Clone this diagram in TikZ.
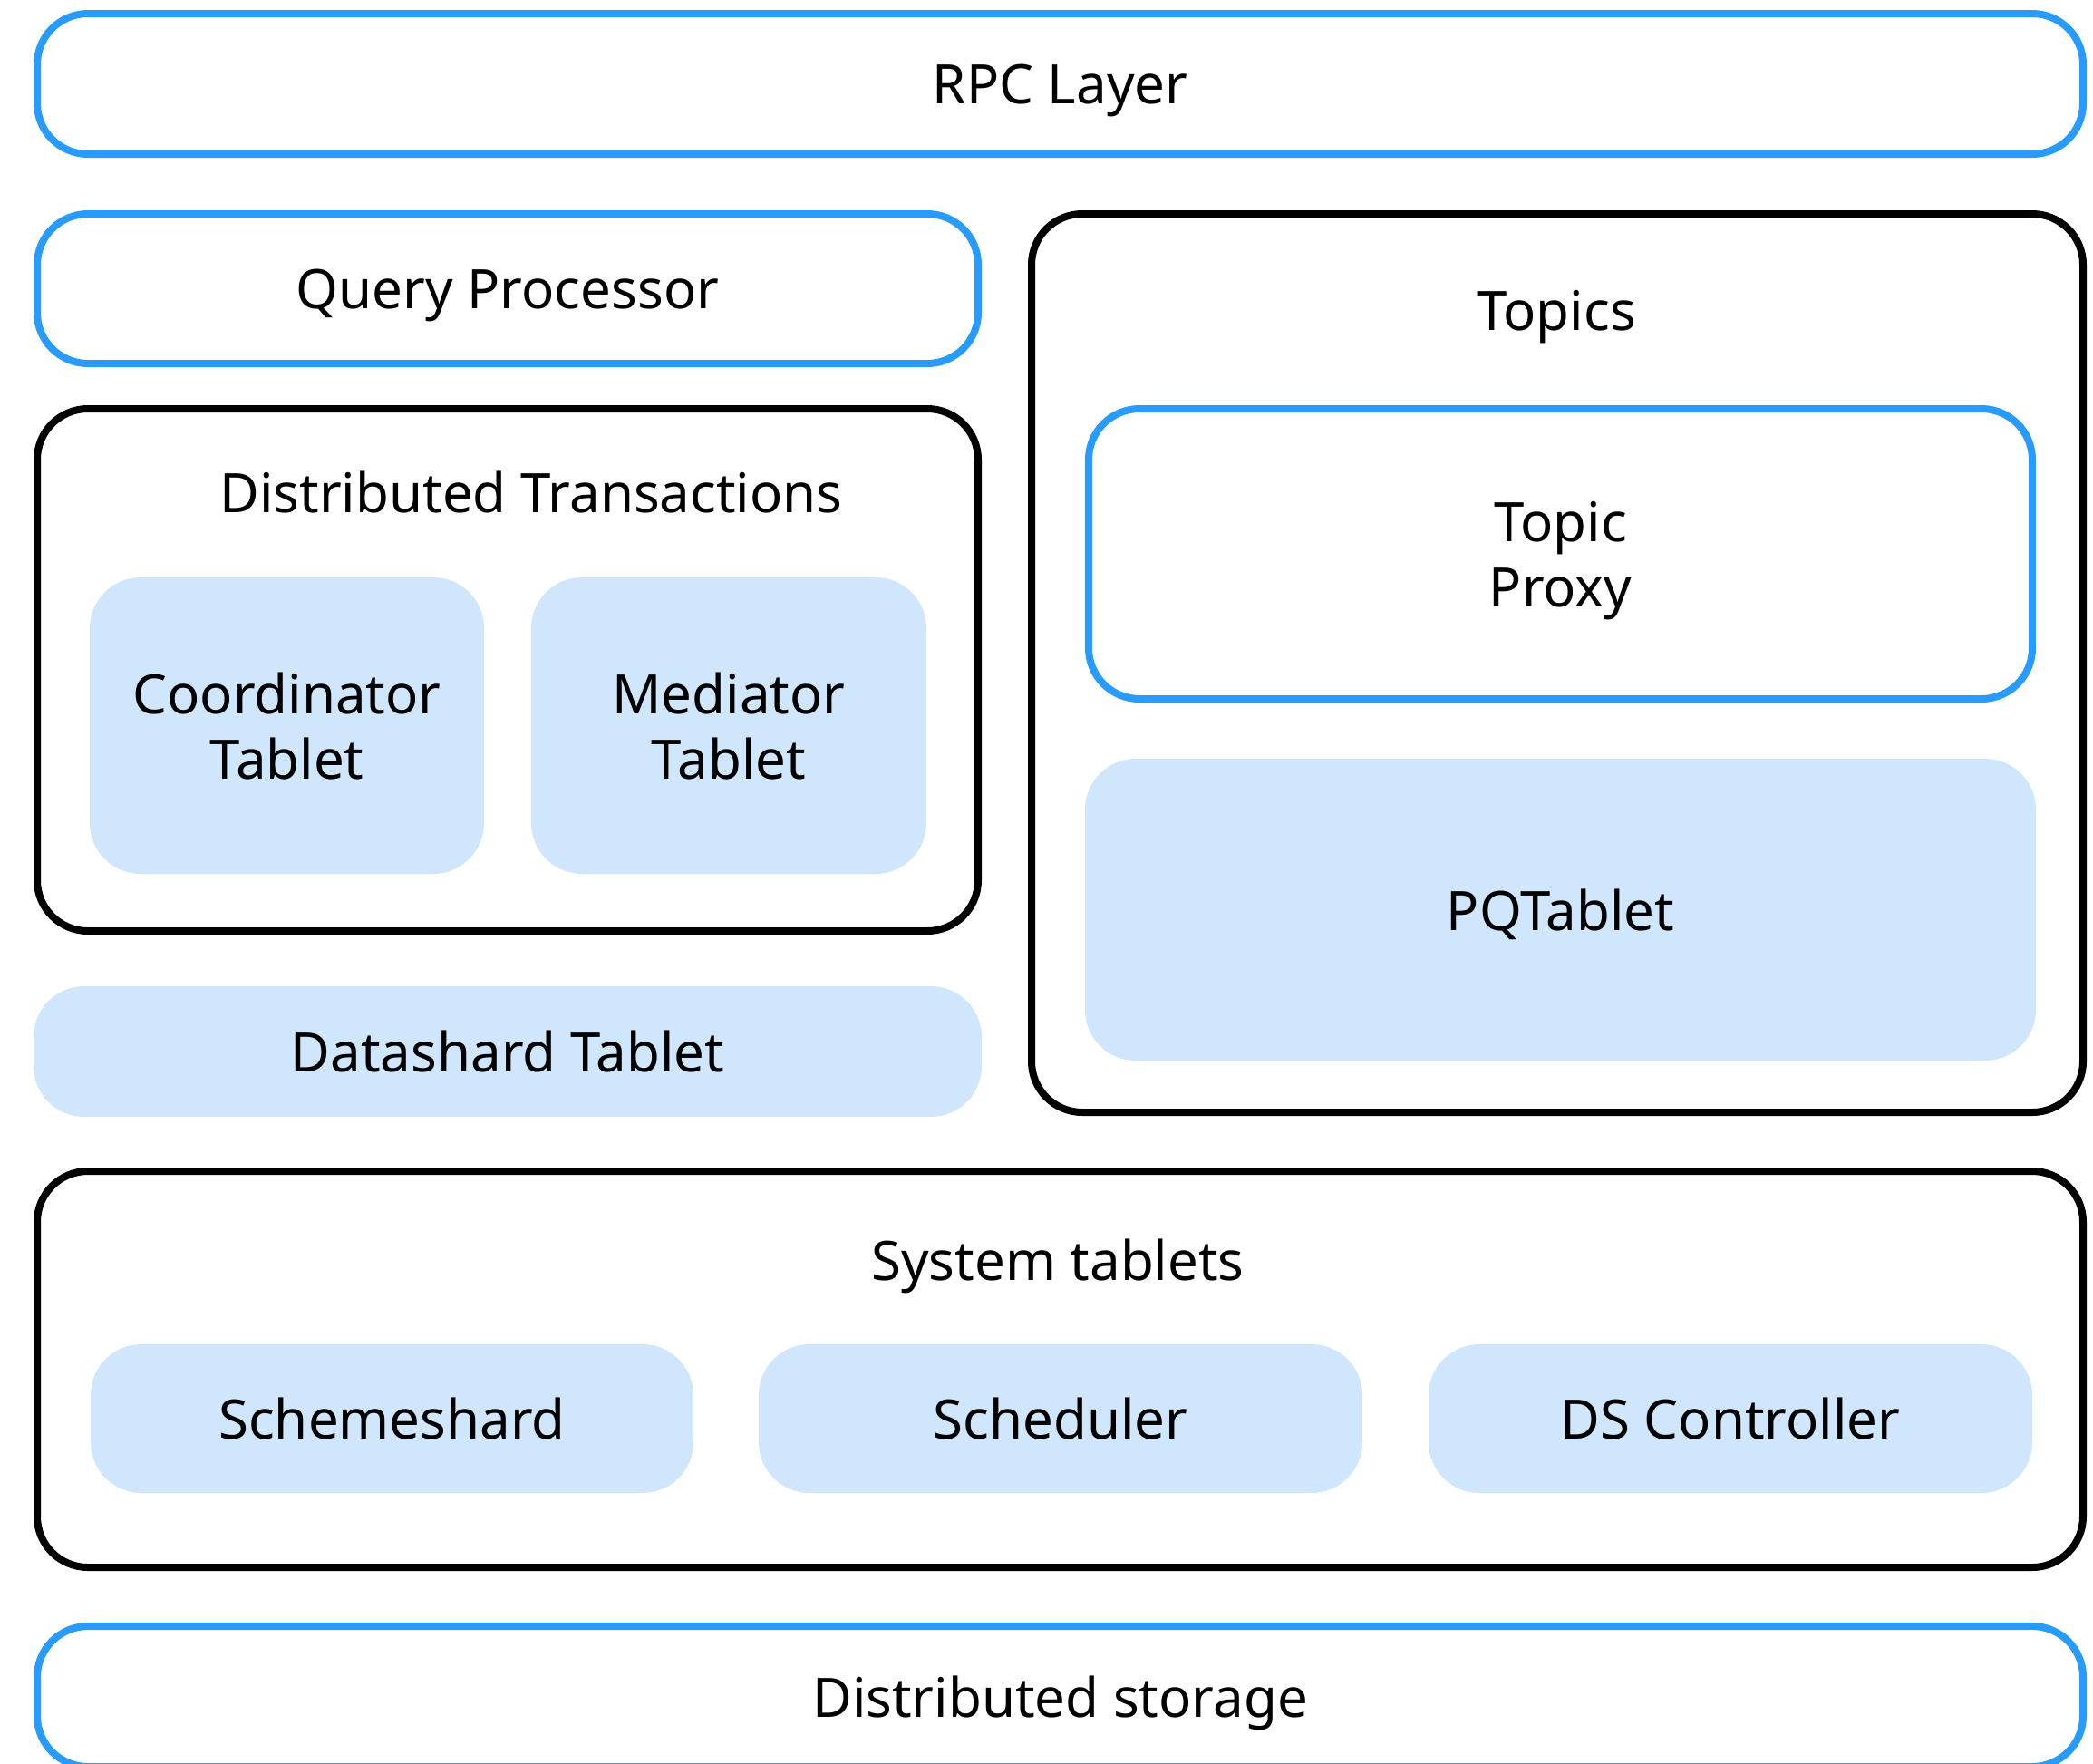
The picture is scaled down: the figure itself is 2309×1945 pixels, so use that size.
\documentclass[tikz,border=0pt]{standalone}
\usepackage{fontspec}
\setmainfont{Noto Sans}
\definecolor{ydbblue}{HTML}{279BFF}
\definecolor{ydbfill}{HTML}{CFE6FD}
\begin{document}
\begin{tikzpicture}[x=0.5pt,y=-0.5pt,
  box/.style={rectangle, rounded corners=28pt, line width=4pt, inner sep=0pt,
    align=center, text depth=0pt, font=\fontsize{30}{36}\selectfont},
  layer/.style={box, draw=ydbblue},
  group/.style={box, draw=black},
  tablet/.style={box, fill=ydbfill},
  title/.style={inner sep=0pt, font=\fontsize{30}{36}\selectfont}]
\useasboundingbox (0,0) rectangle (2309,1945);

% top layer
\node[layer, minimum width=1128.5pt, minimum height=77.5pt] (rpc) at (1169.5,92.5) {RPC Layer};

% left column
\node[layer, minimum width=519pt, minimum height=82.5pt] (qp) at (560,318.5) {Query Processor};
\node[group, minimum width=519pt, minimum height=288pt] (dt) at (560,739) {};
\node[title] (dttitle) at (586,543) {Distributed Transactions};
\node[tablet, minimum width=217.5pt, minimum height=163.5pt] (coord) at (316.5,800.5) {Coordinator\\Tablet};
\node[tablet, minimum width=218pt, minimum height=163.5pt] (med) at (804,800.5) {Mediator\\Tablet};
\node[tablet, minimum width=523pt, minimum height=72pt] (ds) at (560,1160) {Datashard Tablet};

% right column
\node[group, minimum width=580pt, minimum height=495.5pt] (topics) at (1718,731.5) {};
\node[title] (topicstitle) at (1717,350) {Topics};
\node[layer, minimum width=520.5pt, minimum height=160pt] (proxy) at (1721.5,611) {Topic\\Proxy};
\node[tablet, minimum width=524.5pt, minimum height=166.5pt] (pq) at (1721.5,1003.5) {PQTablet};

% system tablets
\node[group, minimum width=1128.5pt, minimum height=218.5pt] (sys) at (1169.5,1510.5) {};
\node[title] (systitle) at (1167,1397) {System tablets};
\node[tablet, minimum width=332.5pt, minimum height=82pt] (schemeshard) at (432.5,1565) {Schemeshard};
\node[tablet, minimum width=333pt, minimum height=82pt] (scheduler) at (1170,1565) {Scheduler};
\node[tablet, minimum width=333pt, minimum height=82pt] (dsctl) at (1909,1565) {DS Controller};

% bottom layer
\node[layer, minimum width=1128.5pt, minimum height=77.5pt] (storage) at (1169.5,1871.5) {Distributed storage};
\end{tikzpicture}
\end{document}
